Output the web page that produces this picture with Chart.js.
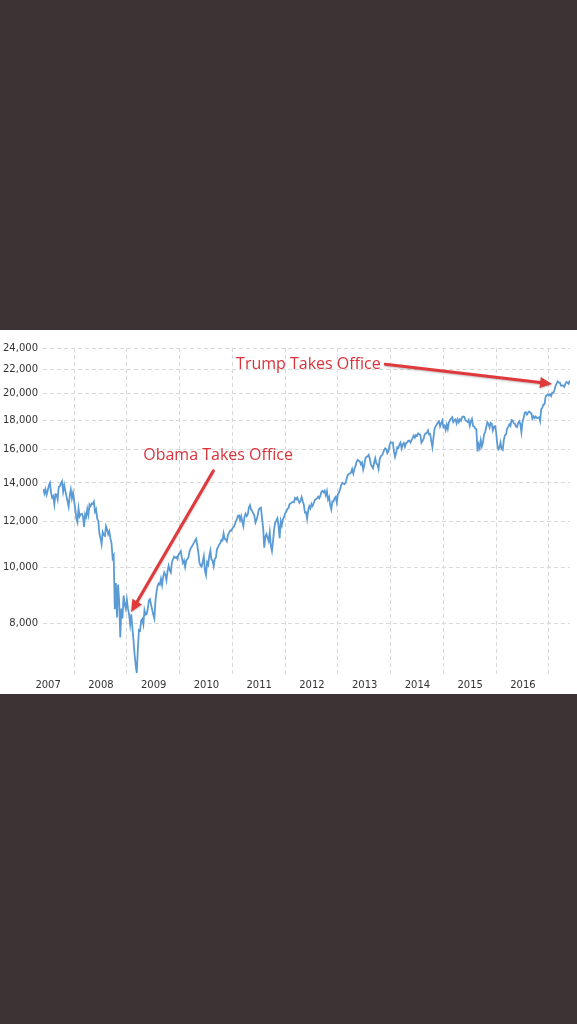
<!DOCTYPE html>
<html lang="en-US">

<head>
    <meta charset="utf-8">
    <meta name="viewport" content="width=device-width, initial-scale=1">
    <title>Dow Jones 2007-2017</title>
    <script src="https://cdn.jsdelivr.net/npm/chart.js@4.4.1/dist/chart.umd.min.js"></script>
    <style>
        html, body { margin: 0; padding: 0; background: #3e3334; }
        #canvas-holder { position: absolute; left: 0; top: 330px; width: 577px; height: 364px; background: #fff; }
    </style>
</head>

<body>
    <div id="canvas-holder">
        <canvas id="chart"></canvas>
    </div>
</body>

</html>

<script>
    // weekly-ish closes, 4 per month (2007 starts in June, 2017 ends in May)
    var dow2007 = [
        13670, 13420, 13640, 13360,  13580, 13860, 14000, 13470,  13200, 13280, 12850, 13380,
        13360, 13110, 13770, 13820,  13970, 14090, 13520, 13870,  13560, 13270, 13010, 12740,
        13310, 13630, 13170, 13450
    ];
    var dow2008 = [
        13040, 12610, 12160, 11970,  12640, 12250, 12350, 12380,  12260, 11740, 12360, 12220,
        12610, 12330, 12850, 12760,  12900, 12870, 12990, 12480,  12600, 12140, 12030, 11450,
        11230, 10960, 11500, 11370,  11330, 11780, 11620, 11410,  11540, 11220, 11020, 10370,
        10480, 8450, 9390, 8180,     9330, 8700, 7550, 8480,      8150, 8930, 8620, 8470
    ];
    var dow2009 = [
        8780, 8470, 8280, 7950,      8280, 7850, 7470, 7060,      6760, 6550, 7220, 7780,
        7760, 8080, 8130, 7960,      8420, 8270, 8290, 8460,      8760, 8800, 8610, 8440,
        8280, 8150, 8740, 9070,      9290, 9370, 9320, 9540,      9310, 9630, 9790, 9700,
        9490, 9860, 10060, 9870,     9790, 10200, 10320, 10430,   10380, 10410, 10330, 10520
    ];
    var dow2010 = [
        10580, 10660, 10390, 10170,  10270, 10010, 10270, 10320,  10400, 10640, 10780, 10850,
        10930, 11020, 11120, 11200,  10930, 10620, 10190, 10070,  10020, 10210, 10440, 9870,
        9690, 10200, 10100, 10470,   10680, 10300, 10270, 10040,  10340, 10390, 10750, 10830,
        10940, 11010, 11150, 11120,  11440, 11190, 11180, 11090,  11380, 11470, 11580, 11570
    ];
    var dow2011 = [
        11670, 11730, 11820, 11990,  12090, 12270, 12300, 12070,  12260, 11990, 11780, 12220,
        12380, 12260, 12340, 12690,  12810, 12600, 12510, 12400,  12290, 11950, 12080, 12290,
        12580, 12650, 12680, 12140,  11700, 10810, 11280, 11410,  11250, 11100, 11500, 10900,
        10670, 11100, 11650, 11950,  12050, 12160, 11800, 11230,  12020, 11820, 12110, 12220
    ];
    var dow2012 = [
        12400, 12470, 12620, 12660,  12860, 12890, 12950, 12980,  12960, 13180, 13120, 13210,
        13060, 12930, 13030, 13230,  13010, 12840, 12440, 12450,  12120, 12550, 12750, 12640,
        12880, 12770, 12910, 13080,  13120, 13160, 13250, 13170,  13290, 13520, 13570, 13480,
        13570, 13330, 13550, 13100,  13230, 12810, 12590, 13010,  13000, 13170, 13240, 12940
    ];
    var dow2013 = [
        13390, 13470, 13650, 13880,  14010, 13970, 13930, 14000,  14250, 14450, 14510, 14540,
        14600, 14800, 14540, 14800,  14970, 15230, 15350, 15300,  15250, 15070, 15180, 14760,
        15000, 15450, 15540, 15560,  15660, 15420, 15080, 14950,  14840, 15190, 15450, 15130,
        15070, 14800, 15370, 15570,  15620, 15760, 15960, 16070,  16010, 15760, 15880, 16270
    ];
    var dow2014 = [
        16470, 16440, 16450, 15880,  15540, 15790, 16150, 16100,  16320, 16450, 16070, 16330,
        16420, 16170, 16410, 16450,  16560, 16580, 16450, 16600,  16740, 16920, 16780, 16950,
        16900, 17060, 17000, 16980,  16440, 16550, 16710, 17010,  17070, 17100, 17270, 16990,
        17010, 16540, 16140, 16800,  17390, 17570, 17680, 17820,  17900, 17550, 17760, 17960
    ];
    var dow2015 = [
        17500, 17600, 17300, 17670,  17360, 17820, 18000, 18110,  18200, 17850, 17980, 18050,
        17760, 18050, 17840, 18050,  17940, 18190, 18250, 18230,  18010, 17920, 17860, 18010,
        17590, 17900, 18080, 17570,  17540, 17400, 17350, 15870,  16340, 16100, 16600, 16200,
        16470, 16990, 17140, 17500,  17830, 17730, 17480, 17800,  17730, 17260, 17520, 17550
    ];
    var dow2016 = [
        17150, 16350, 16010, 16100,  16450, 16030, 15970, 16620,  16940, 17000, 17400, 17510,
        17690, 17580, 18000, 17970,  17770, 17740, 17530, 17500,  17790, 17900, 17730, 17140,
        17870, 18150, 18530, 18570,  18400, 18530, 18620, 18550,  18490, 18090, 18260, 18140,
        18250, 18150, 18160, 18200,  17930, 18800, 18900, 19150,  19170, 19750, 19900, 19930
    ];
    var dow2017 = [
        19850, 19950, 19800, 20070,  20070, 20270, 20620, 20810,  21000, 20900, 20900, 20650,
        20660, 20650, 20550, 20800,  20950, 20900, 20800, 21080
    ];

    var yTicks = [8000, 10000, 12000, 14000, 16000, 18000, 20000, 22000, 24000];
    var gridYears = [2008, 2009, 2010, 2011, 2012, 2013, 2014, 2015, 2016, 2017];
    var xLabels = ['2007', '2008', '2009', '2010', '2011', '2012', '2013', '2014', '2015', '2016'];

    var notes = [
        { text: 'Trump Takes Office', at: [2011.07, 22500], from: [2013.90, 22500], to: [2017.06, 20790] },
        { text: 'Obama Takes Office', at: [2009.31, 15600], from: [2010.64, 14700], to: [2009.08, 8360] }
    ];

    // build points: year + (month + week/4)/12
    var series = [[2007, 5, dow2007], [2008, 0, dow2008], [2009, 0, dow2009], [2010, 0, dow2010],
        [2011, 0, dow2011], [2012, 0, dow2012], [2013, 0, dow2013], [2014, 0, dow2014],
        [2015, 0, dow2015], [2016, 0, dow2016], [2017, 0, dow2017]];
    var points = [];
    series.forEach(function (s) {
        s[2].forEach(function (v, i) {
            var month = s[1] + Math.floor(i / 4);
            points.push({ x: s[0] + (month + (i % 4) / 4) / 12, y: v });
        });
    });

    var gridColor = '#d9d9d9';
    var tickFont = { family: 'DejaVu Sans', size: 10 };

    var notePlugin = {
        id: 'notes',
        afterDatasetsDraw: function (chart) {
            var ctx = chart.ctx;
            var xs = chart.scales.x, ys = chart.scales.y;
            notes.forEach(function (n) {
                var x0 = xs.getPixelForValue(n.from[0]), y0 = ys.getPixelForValue(n.from[1]);
                var x1 = xs.getPixelForValue(n.to[0]), y1 = ys.getPixelForValue(n.to[1]);
                var ang = Math.atan2(y1 - y0, x1 - x0);
                var head = 12, half = 5.5;
                ctx.save();
                ctx.shadowColor = 'rgba(0,0,0,0.25)';
                ctx.shadowBlur = 2;
                ctx.shadowOffsetY = 1;
                ctx.strokeStyle = '#e0393c';
                ctx.fillStyle = '#e0393c';
                ctx.lineWidth = 3;
                ctx.lineCap = 'round';
                ctx.beginPath();
                ctx.moveTo(x0, y0);
                ctx.lineTo(x1 - Math.cos(ang) * head * 0.8, y1 - Math.sin(ang) * head * 0.8);
                ctx.stroke();
                ctx.beginPath();
                ctx.moveTo(x1, y1);
                ctx.lineTo(x1 - Math.cos(ang) * head - Math.sin(ang) * half, y1 - Math.sin(ang) * head + Math.cos(ang) * half);
                ctx.lineTo(x1 - Math.cos(ang) * head + Math.sin(ang) * half, y1 - Math.sin(ang) * head - Math.cos(ang) * half);
                ctx.closePath();
                ctx.fill();
                ctx.restore();

                ctx.save();
                ctx.fillStyle = '#d8333b';
                ctx.font = '16px "Open Sans"';
                ctx.textAlign = 'left';
                ctx.textBaseline = 'middle';
                ctx.fillText(n.text, xs.getPixelForValue(n.at[0]), ys.getPixelForValue(n.at[1]));
                ctx.restore();
            });
        }
    };

    var config = {
        type: 'line',
        data: {
            datasets: [{
                data: points,
                borderColor: '#5b9bd5',
                borderWidth: 1.8,
                pointRadius: 0,
                fill: false,
                tension: 0
            }]
        },
        options: {
            responsive: true,
            maintainAspectRatio: false,
            animation: false,
            layout: { padding: { top: 18, right: 7, left: 0, bottom: 0 } },
            plugins: { legend: { display: false }, tooltip: { enabled: false } },
            scales: {
                x: {
                    type: 'linear',
                    min: 2007.41,
                    max: 2017.40,
                    afterBuildTicks: function (scale) {
                        scale.ticks = gridYears.map(function (v) { return { value: v }; });
                    },
                    afterFit: function (scale) { scale.height = 19; },
                    ticks: {
                        autoSkip: false,
                        maxRotation: 0,
                        padding: 4,
                        labelOffset: -26,
                        color: '#333',
                        font: tickFont,
                        callback: function (v, i) { return xLabels[i]; }
                    },
                    grid: { color: gridColor, drawTicks: false },
                    border: { display: false, dash: [4, 3] }
                },
                y: {
                    type: 'logarithmic',
                    min: 6500,
                    max: 24000,
                    afterBuildTicks: function (scale) {
                        scale.ticks = yTicks.map(function (v) { return { value: v }; });
                    },
                    afterFit: function (scale) { scale.width = 43; },
                    ticks: {
                        padding: 5,
                        color: '#333',
                        font: tickFont,
                        callback: function (v) { return Number(v).toLocaleString('en-US'); }
                    },
                    grid: { color: gridColor, drawTicks: false },
                    border: { display: false, dash: [4, 3] }
                }
            }
        },
        plugins: [notePlugin]
    };

    var ctx = document.getElementById('chart').getContext('2d');
    window.myChart = new Chart(ctx, config);
</script>
